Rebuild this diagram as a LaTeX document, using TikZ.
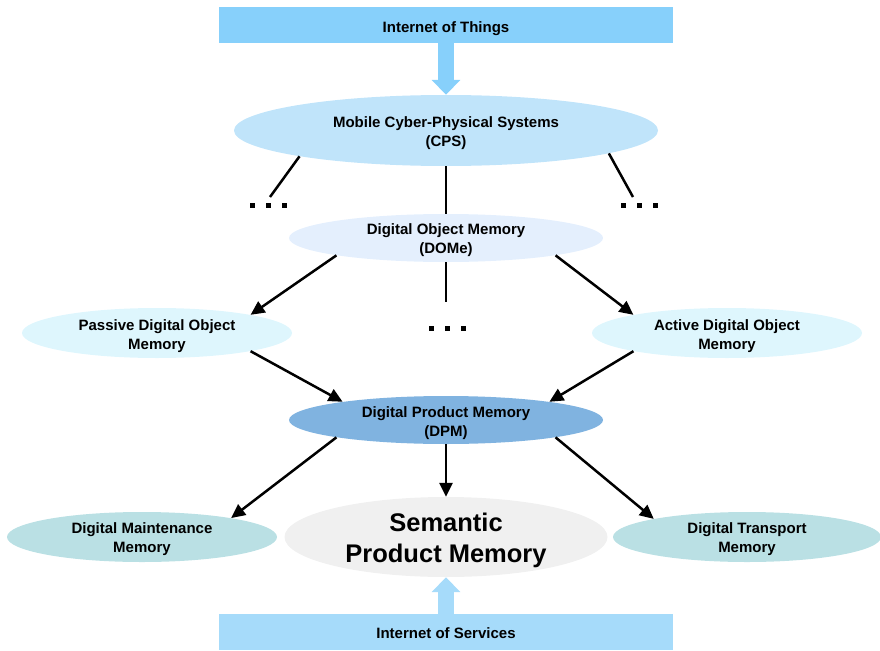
\documentclass[tikz,border=0pt]{standalone}
\usepackage{fontspec}
\setmainfont{Liberation Sans}
\usetikzlibrary{shapes.geometric,arrows.meta}
\definecolor{iotblue}{RGB}{135,208,251}
\definecolor{iosblue}{RGB}{166,219,250}
\definecolor{cpsblue}{RGB}{192,228,250}
\definecolor{domeblue}{RGB}{228,239,253}
\definecolor{odmcyan}{RGB}{222,246,253}
\definecolor{dpmblue}{RGB}{128,179,224}
\definecolor{memteal}{RGB}{186,224,228}
\definecolor{semgray}{RGB}{240,240,240}
\newcommand{\topstrut}[1]{\rule{0pt}{#1}}
\begin{document}
\begin{tikzpicture}[x=1pt,y=-1pt,
  lbl/.style={font=\fontsize{15}{19}\selectfont\bfseries, align=center, text=black},
  oval/.style={ellipse, lbl, inner xsep=0pt, inner ysep=-4pt},
  band/.style={rectangle, lbl, inner sep=0pt, text height=19pt, minimum width=454pt, minimum height=36pt},
  conn/.style={line width=2.5pt, draw=black},
  arr/.style={conn, -{Triangle[length=14pt,width=13pt]}},
  fat/.style={line width=16pt, -{Triangle[length=15pt,width=28pt]}},
  dotrow/.style={inner sep=0pt, text=black}]
\useasboundingbox (0,0) rectangle (880,650);

\newcommand{\dotsrow}{\rule{5pt}{5pt}\hspace{11pt}\rule{5pt}{5pt}\hspace{11pt}\rule{5pt}{5pt}}

\node[band, fill=iotblue] (iot) at (446,25) {Internet of Things};
\node[band, fill=iosblue, text height=13pt] (ios) at (446,632) {Internet of Services};

\node[oval, fill=cpsblue, minimum width=424pt, minimum height=71pt] (cps) at (446,130.5) {\topstrut{17pt}Mobile Cyber-Physical Systems\\(CPS)};
\node[oval, fill=domeblue, minimum width=314pt, minimum height=48pt] (dome) at (446,238) {\topstrut{15pt}Digital Object Memory\\(DOMe)};
\node[oval, fill=odmcyan, minimum width=270pt, minimum height=50pt] (pdom) at (157,333) {\topstrut{17pt}Passive Digital Object\\Memory};
\node[oval, fill=odmcyan, minimum width=270pt, minimum height=50pt] (adom) at (727,333) {\topstrut{17pt}Active Digital Object\\Memory};
\node[oval, fill=dpmblue, minimum width=314pt, minimum height=48pt] (dpm) at (446,420) {\topstrut{17pt}Digital Product Memory\\(DPM)};
\node[oval, fill=memteal, minimum width=270pt, minimum height=50pt] (dmm) at (142,537) {\topstrut{15pt}Digital Maintenance\\Memory};
\node[oval, fill=memteal, minimum width=268pt, minimum height=50pt] (dtm) at (747,537) {\topstrut{15pt}Digital Transport\\Memory};
\node[oval, fill=semgray, minimum width=323pt, minimum height=80pt, inner ysep=-6pt,
      font=\fontsize{25.5}{31}\selectfont\bfseries] (spm) at (446,537) {\topstrut{24.5pt}Semantic\\Product Memory};

\node[dotrow] (dotsL) at (268,205) {\dotsrow};
\node[dotrow] (dotsR) at (639,205) {\dotsrow};
\node[dotrow] (dotsM) at (447,328) {\dotsrow};

\coordinate (endL) at (270,197);
\coordinate (endR) at (633,197);
\coordinate (endM) at (446,302);

% thick band arrows
\draw[fat, iotblue] (iot.south) -- (cps.north);
\draw[fat, iosblue] (ios.north) -- (spm.south);

% plain connectors
\draw[conn] (cps.190) -- (endL);
\draw[conn] (cps.south) -- (dome.north);
\draw[conn] (cps.-8.5) -- (endR);
\draw[conn] (dome.south) -- (endM);

% arrows
\draw[arr] (dome.189) -- (pdom.11);
\draw[arr] (dome.-9) -- (adom.169);
\draw[arr] (pdom.-11) -- (dpm.170);
\draw[arr] (adom.191) -- (dpm.10);
\draw[arr] (dpm.189) -- (dmm.12);
\draw[arr] (dpm.south) -- (spm.north);
\draw[arr] (dpm.-9) -- (dtm.169);
\end{tikzpicture}
\end{document}
